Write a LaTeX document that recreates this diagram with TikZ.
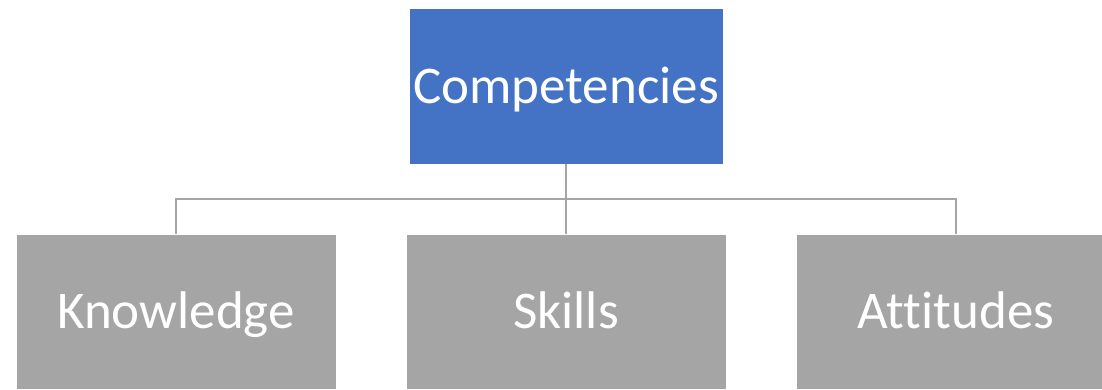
\documentclass[tikz,border=0pt]{standalone}
\usepackage{fontspec}
\setmainfont[Ligatures={NoCommon}]{Carlito}
\definecolor{compblue}{RGB}{68, 114, 196}
\definecolor{leafgray}{RGB}{165, 165, 165}
\usetikzlibrary{positioning}
\tikzset{
  box/.style={draw=white, line width=0.8pt, text=white, inner sep=0pt,
    font=\fontsize{53}{60}\selectfont, text height=34pt, text depth=0pt},
  topbox/.style={box, fill=compblue, minimum width=314pt, minimum height=156pt},
  leafbox/.style={box, fill=leafgray, minimum width=320pt, minimum height=155pt},
  link/.style={draw=leafgray, line width=2.2pt}
}

\begin{document}
\begin{tikzpicture}[x=1pt, y=-1pt]
  \useasboundingbox (0,0) rectangle (1102,389);
  \node[topbox] (comp) at (566,86) {Competencies};
  \node[leafbox] (know) at (176,311.5) {Knowledge};
  \node[leafbox] (skill) at (566,311.5) {Skills};
  \node[leafbox] (att) at (956,311.5) {Attitudes};
  \coordinate (bus) at (566,199);
  % connectors
  \draw[link] (comp.south) -- (bus);
  \draw[link] (know.north) |- (bus);
  \draw[link] (att.north) |- (bus);
  \draw[link] (skill.north) -- (bus);
\end{tikzpicture}
\end{document}
